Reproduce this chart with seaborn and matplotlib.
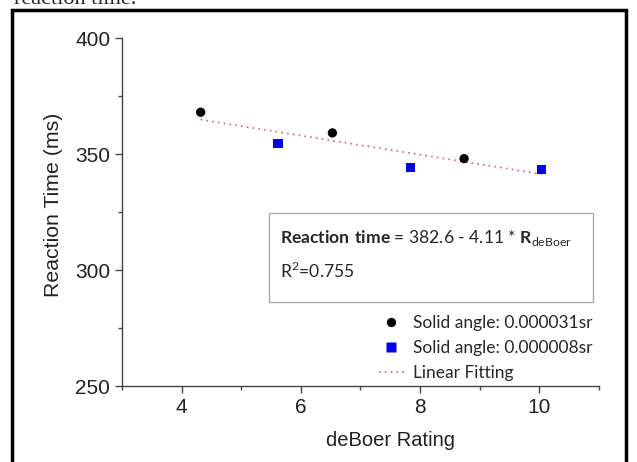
import pandas as pd
import seaborn as sns
import matplotlib.pyplot as plt
from matplotlib.patches import Rectangle
from matplotlib.ticker import MultipleLocator

# valeurs
rating_big = [4.32, 6.53, 8.74]
rt_big = [368.0, 359.1, 348.0]
rating_small = [5.62, 7.84, 10.04]
rt_small = [354.4, 344.3, 343.4]
series_names = ["Solid angle: 0.000031sr", "Solid angle: 0.000008sr"]
intercept, slope = 382.6, -4.11
fit_x = [4.32, 10.04]

df = pd.DataFrame({
    "Rating": rating_big + rating_small,
    "RT": rt_big + rt_small,
    "Serie": [series_names[0]] * 3 + [series_names[1]] * 3,
})
fit = pd.DataFrame({"Rating": fit_x})
fit["RT"] = intercept + slope * fit["Rating"]

sns.set_style("ticks")
plt.rcParams["font.family"] = ["Liberation Sans", "DejaVu Sans"]
plt.rcParams["mathtext.fontset"] = "custom"
plt.rcParams["mathtext.rm"] = "Lato"
plt.rcParams["mathtext.bf"] = "Lato:bold"

fig = plt.figure(figsize=(6.37, 4.62), dpi=100)
ax = fig.add_axes([0.1915, 0.1645, 0.7485, 0.7532])

sns.scatterplot(data=df, x="Rating", y="RT", hue="Serie", style="Serie",
                palette=["black", "#0000ee"], markers=["o", "s"],
                s=45, edgecolor="none", ax=ax, zorder=3)
sns.lineplot(data=fit, x="Rating", y="RT", color="#e06060", linestyle=(0, (1, 2.5)),
             lw=1.2, ax=ax, label="Linear Fitting")

ax.set_xlim(3, 11)
ax.set_ylim(250, 400)
ax.set_xticks([4, 6, 8, 10])
ax.set_yticks([250, 300, 350, 400])
ax.xaxis.set_minor_locator(MultipleLocator(1))
ax.yaxis.set_minor_locator(MultipleLocator(25))
ax.tick_params(axis="both", which="major", length=5, width=1, color="#444444",
               labelsize=15, labelcolor="#222222")
ax.tick_params(axis="both", which="minor", length=3, width=1, color="#444444")
for side in ["top", "right"]:
    ax.spines[side].set_visible(False)
for side in ["left", "bottom"]:
    ax.spines[side].set_color("#444444")
    ax.spines[side].set_linewidth(1)
ax.set_xlabel("deBoer Rating", fontsize=14.5, color="#222222")
ax.set_ylabel("Reaction Time (ms)", fontsize=15.3, color="#222222")
ax.xaxis.set_label_coords(0.564, -0.13)
ax.yaxis.set_label_coords(-0.124, 0.52)

# encadré de l'équation
ax.add_patch(Rectangle((0.308, 0.241), 0.679, 0.256, transform=ax.transAxes,
                       fill=False, edgecolor="#aaaaaa", lw=1, zorder=2))
ax.text(0.331, 0.425,
        r"$\mathbf{Reaction\ time}$ = 382.6 - 4.11 * $\mathbf{R}_{\mathrm{deBoer}}$",
        transform=ax.transAxes, fontsize=12.6, family="Lato", va="center")
ax.text(0.331, 0.330, r"R$^{2}$=0.755", transform=ax.transAxes,
        fontsize=12.6, family="Lato", va="center")

leg = ax.legend(loc="lower right", bbox_to_anchor=(1.02, -0.03), frameon=False,
                prop={"family": "Lato", "size": 12.5}, handlelength=1.4,
                handletextpad=0.55, labelspacing=0.5, markerscale=1.0)

# cadre de la figure et texte coupé du document
fig.add_artist(Rectangle((12 / 637, -0.05), 614 / 637, 1 - 10 / 462 + 0.05,
                         transform=fig.transFigure, fill=False,
                         edgecolor="black", lw=2.5))
fig.text(14 / 637, 1 - 4 / 462, "reaction time.", family="Liberation Serif",
         fontsize=16, va="baseline")

fig.savefig("out.png", dpi=100)
